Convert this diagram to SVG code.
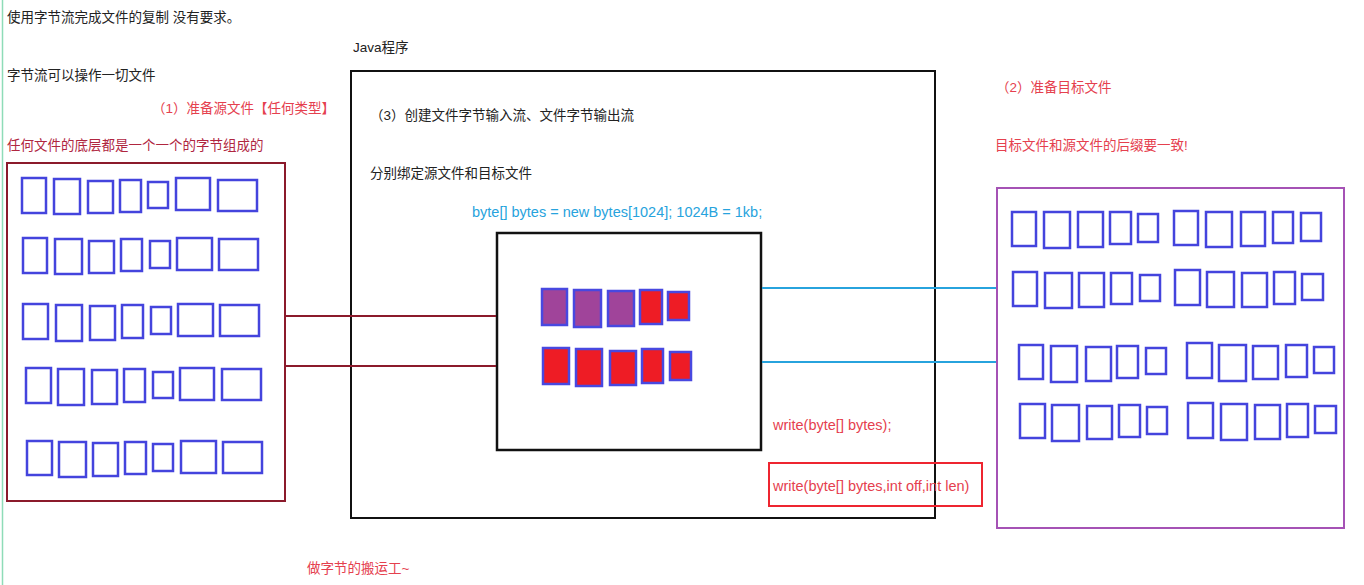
<svg xmlns="http://www.w3.org/2000/svg" width="1364" height="585" viewBox="0 0 1364 585">
<style>
.t{font-family:"Liberation Sans","Noto Sans CJK SC",sans-serif;font-size:13.5px;fill:#222}
.red{fill:#E5404E}
.dred{fill:#B0263F}
.code{font-family:"Liberation Sans",sans-serif;font-size:14.5px}
.b{fill:none;stroke:#4444DD;stroke-width:2.5}
.pb{fill:#A0449A;stroke:#4848E0;stroke-width:2.5}
.rb{fill:#EE1C25;stroke:#4848E0;stroke-width:2.5}
</style>
<rect width="1364" height="585" fill="#fff"/>
<line x1="2.5" y1="0" x2="2.5" y2="585" stroke="#8EDCB8" stroke-width="1.5"/>
<g id="texts">
<text class="t" x="7" y="22">使用字节流完成文件的复制 没有要求。</text>
<text class="t" x="7" y="80">字节流可以操作一切文件</text>
<text class="t red" x="152" y="113">（1）准备源文件【任何类型】</text>
<text class="t dred" x="7" y="150">任何文件的底层都是一个一个的字节组成的</text>
<text class="t" x="353" y="52">Java程序</text>
<text class="t red" x="996" y="92">（2）准备目标文件</text>
<text class="t red" x="995" y="150">目标文件和源文件的后缀要一致!</text>
<text class="t red" x="307" y="573">做字节的搬运工~</text>
</g>
<g id="source-file">
<rect x="7" y="163" width="278" height="338" fill="none" stroke="#8B1A2B" stroke-width="2"/>
<rect class="b" x="22" y="178" width="24" height="35"/><rect class="b" x="54" y="179" width="26" height="35"/><rect class="b" x="88" y="181" width="25" height="32"/><rect class="b" x="120" y="180" width="21" height="32"/><rect class="b" x="148" y="182" width="20" height="26"/><rect class="b" x="176" y="178" width="34" height="32"/><rect class="b" x="218" y="180" width="39" height="31"/>
<rect class="b" x="23" y="238" width="24" height="35"/><rect class="b" x="55" y="239" width="27" height="35"/><rect class="b" x="89" y="241" width="25" height="32"/><rect class="b" x="121" y="239" width="21" height="32"/><rect class="b" x="150" y="241" width="20" height="27"/><rect class="b" x="177" y="238" width="35" height="32"/><rect class="b" x="219" y="239" width="39" height="31"/>
<rect class="b" x="23" y="304" width="25" height="35"/><rect class="b" x="56" y="305" width="26" height="36"/><rect class="b" x="90" y="306" width="25" height="34"/><rect class="b" x="122" y="305" width="21" height="33"/><rect class="b" x="151" y="307" width="20" height="27"/><rect class="b" x="178" y="304" width="35" height="32"/><rect class="b" x="220" y="305" width="39" height="31"/>
<rect class="b" x="26" y="368" width="25" height="35"/><rect class="b" x="58" y="369" width="26" height="36"/><rect class="b" x="92" y="370" width="25" height="34"/><rect class="b" x="124" y="369" width="21" height="33"/><rect class="b" x="153" y="372" width="20" height="26"/><rect class="b" x="180" y="368" width="34" height="32"/><rect class="b" x="222" y="369" width="39" height="31"/>
<rect class="b" x="27" y="441" width="25" height="34"/><rect class="b" x="59" y="442" width="27" height="35"/><rect class="b" x="93" y="443" width="25" height="33"/><rect class="b" x="125" y="442" width="21" height="32"/><rect class="b" x="153" y="444" width="20" height="27"/><rect class="b" x="181" y="441" width="35" height="32"/><rect class="b" x="223" y="442" width="39" height="31"/>
</g>
<g id="java-program">
<rect x="351" y="71" width="584" height="447" fill="none" stroke="#111" stroke-width="2"/>
<text class="t" x="370" y="120">（3）创建文件字节输入流、文件字节输出流</text>
<text class="t" x="370" y="178">分别绑定源文件和目标文件</text>
<text class="code" x="472" y="217" fill="#27A3DD">byte[] bytes = new bytes[1024]; 1024B = 1kb;</text>
<text class="code red" x="773" y="430">write(byte[] bytes);</text>
</g>
<g id="buffer">
<rect x="497" y="233" width="264" height="217" fill="#fff" stroke="#111" stroke-width="2.5"/>
<rect class="pb" x="542" y="289" width="25" height="36"/><rect class="pb" x="574" y="290" width="27" height="37"/><rect class="pb" x="608" y="291" width="26" height="35"/><rect class="rb" x="640" y="290" width="22" height="34"/><rect class="rb" x="668" y="292" width="21" height="28"/>
<rect class="rb" x="543" y="348" width="26" height="36"/><rect class="rb" x="576" y="349" width="26" height="37"/><rect class="rb" x="610" y="351" width="26" height="34"/><rect class="rb" x="642" y="349" width="21" height="34"/><rect class="rb" x="670" y="352" width="21" height="28"/>
</g>
<g id="write-method">
<rect x="769" y="463" width="213" height="43" fill="none" stroke="#EE2530" stroke-width="2"/>
<text class="code red" x="773" y="491">write(byte[] bytes,int off,int len)</text>
</g>
<g id="target-file">
<rect x="997" y="188" width="347" height="340" fill="none" stroke="#A552B5" stroke-width="2"/>
<rect class="b" x="1012" y="212" width="24" height="34"/><rect class="b" x="1044" y="212" width="26" height="36"/><rect class="b" x="1078" y="212" width="25" height="35"/><rect class="b" x="1110" y="212" width="21" height="32"/><rect class="b" x="1138" y="214" width="20" height="28"/><rect class="b" x="1174" y="211" width="24" height="34"/><rect class="b" x="1206" y="212" width="26" height="35"/><rect class="b" x="1241" y="212" width="24" height="34"/><rect class="b" x="1273" y="212" width="20" height="31"/><rect class="b" x="1301" y="213" width="20" height="28"/>
<rect class="b" x="1013" y="272" width="24" height="34"/><rect class="b" x="1045" y="273" width="27" height="35"/><rect class="b" x="1079" y="273" width="25" height="34"/><rect class="b" x="1111" y="273" width="21" height="31"/><rect class="b" x="1140" y="275" width="20" height="26"/><rect class="b" x="1175" y="270" width="25" height="35"/><rect class="b" x="1207" y="272" width="27" height="35"/><rect class="b" x="1242" y="273" width="25" height="34"/><rect class="b" x="1274" y="272" width="21" height="32"/><rect class="b" x="1302" y="274" width="21" height="26"/>
<rect class="b" x="1019" y="345" width="24" height="34"/><rect class="b" x="1051" y="346" width="26" height="36"/><rect class="b" x="1086" y="347" width="25" height="34"/><rect class="b" x="1117" y="346" width="21" height="32"/><rect class="b" x="1146" y="348" width="20" height="26"/><rect class="b" x="1187" y="343" width="25" height="35"/><rect class="b" x="1219" y="345" width="27" height="36"/><rect class="b" x="1253" y="346" width="25" height="33"/><rect class="b" x="1286" y="345" width="21" height="32"/><rect class="b" x="1314" y="347" width="20" height="26"/>
<rect class="b" x="1020" y="404" width="25" height="34"/><rect class="b" x="1052" y="405" width="27" height="36"/><rect class="b" x="1087" y="406" width="25" height="33"/><rect class="b" x="1119" y="405" width="21" height="32"/><rect class="b" x="1147" y="407" width="20" height="27"/><rect class="b" x="1188" y="403" width="25" height="35"/><rect class="b" x="1221" y="404" width="26" height="36"/><rect class="b" x="1255" y="405" width="25" height="34"/><rect class="b" x="1287" y="404" width="21" height="33"/><rect class="b" x="1315" y="406" width="21" height="27"/>
</g>
<g id="connectors">
<line x1="286" y1="316" x2="496" y2="316" stroke="#8B1A2B" stroke-width="2"/>
<line x1="286" y1="366" x2="496" y2="366" stroke="#8B1A2B" stroke-width="2"/>
<line x1="762" y1="288" x2="996" y2="288" stroke="#27A3DD" stroke-width="2"/>
<line x1="762" y1="362" x2="996" y2="362" stroke="#27A3DD" stroke-width="2"/>
</g>
</svg>
